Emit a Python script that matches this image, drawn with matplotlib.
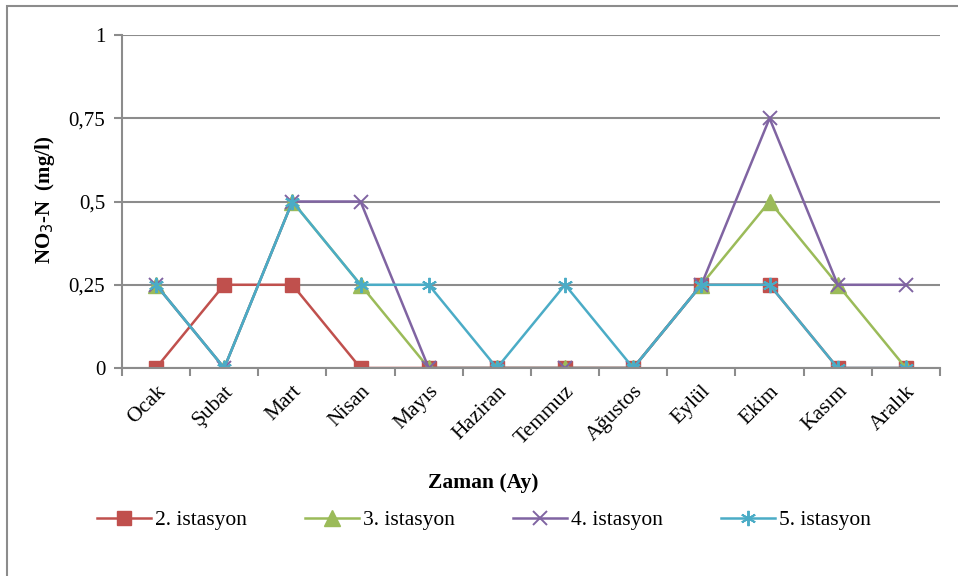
import matplotlib
matplotlib.use("Agg")
import matplotlib.pyplot as plt
from matplotlib.patches import Rectangle

plt.rcParams['font.family'] = ['Liberation Serif', 'DejaVu Serif']

months = ["Ocak", "Şubat", "Mart", "Nisan", "Mayıs", "Haziran",
          "Temmuz", "Ağustos", "Eylül", "Ekim", "Kasım", "Aralık"]
ist2 = [0, 0.25, 0.25, 0, 0, 0, 0, 0, 0.25, 0.25, 0, 0]
ist3 = [0.25, 0, 0.5, 0.25, 0, 0, 0, 0, 0.25, 0.5, 0.25, 0]
ist4 = [0.25, 0, 0.5, 0.5, 0, 0, 0, 0, 0.25, 0.75, 0.25, 0.25]
ist5 = [0.25, 0, 0.5, 0.25, 0.25, 0, 0.25, 0, 0.25, 0.25, 0, 0]
yticks = [0, 0.25, 0.5, 0.75, 1]
ytick_labels = ["0", "0,25", "0,5", "0,75", "1"]

fig = plt.figure(figsize=(9.58, 5.76), dpi=100)
ax = fig.add_axes([0.1273, 0.3611, 0.8539, 0.5781])

# outer chart frame
fig.patches.append(Rectangle((7 / 958, -0.05), 1.2, 1 - 6 / 576 + 0.05,
                             transform=fig.transFigure, fill=False,
                             edgecolor="#8c8c8c", linewidth=1.5))

x = list(range(len(months)))
series = [
    (ist2, "2. istasyon", "#C0504D", "s", 10.5, 1.0),
    (ist3, "3. istasyon", "#9BBB59", "^", 11, 1.0),
    (ist4, "4. istasyon", "#8064A2", "x", 9.5, 1.4),
    (ist5, "5. istasyon", "#4BACC6", (6, 2, 0), 11, 1.4),
]
for vals, name, col, mk, ms, mew in series:
    ax.plot(x, vals, color=col, marker=mk, markersize=ms, linewidth=1.8,
            markeredgewidth=mew, markeredgecolor=col, label=name)

ax.set_xlim(-0.5, len(months) - 0.5)
ax.set_ylim(0, 1)
ax.set_yticks(yticks)
ax.set_yticklabels(ytick_labels, fontsize=15)
ax.yaxis.grid(True, color="#8c8c8c", linewidth=1.5)
ax.set_axisbelow(True)

ax.set_xticks([i + 0.5 for i in range(-1, len(months))])
ax.set_xticklabels([])
ax.set_xticks(x, minor=True)
ax.set_xticklabels(months, minor=True, rotation=45, ha="right",
                   rotation_mode="anchor", fontsize=15.5)
ax.tick_params(axis="x", which="minor", length=0, pad=10)
ax.tick_params(axis="x", which="major", length=6, width=1.5,
               color="#8c8c8c", direction="out")
ax.tick_params(axis="y", length=6, width=1.5, color="#8c8c8c",
               direction="out", pad=6)

for side in ("top", "right"):
    ax.spines[side].set_visible(False)
for side in ("left", "bottom"):
    ax.spines[side].set_color("#8c8c8c")
    ax.spines[side].set_linewidth(1.5)

fig.text(45 / 958, 1 - 200 / 576, r"NO$_3$-N  (mg/l)", rotation=90,
         ha="center", va="center", fontsize=15, fontweight="bold")
fig.text(483 / 958, 1 - 483 / 576, "Zaman (Ay)", ha="center",
         va="center", fontsize=15.5, fontweight="bold")

fig.legend(loc="center", bbox_to_anchor=(484 / 958, 1 - 520 / 576),
           ncol=4, frameon=False, fontsize=15.5, handlelength=2.5,
           handletextpad=0.2, columnspacing=2.7)

fig.savefig("out.png", dpi=100)
